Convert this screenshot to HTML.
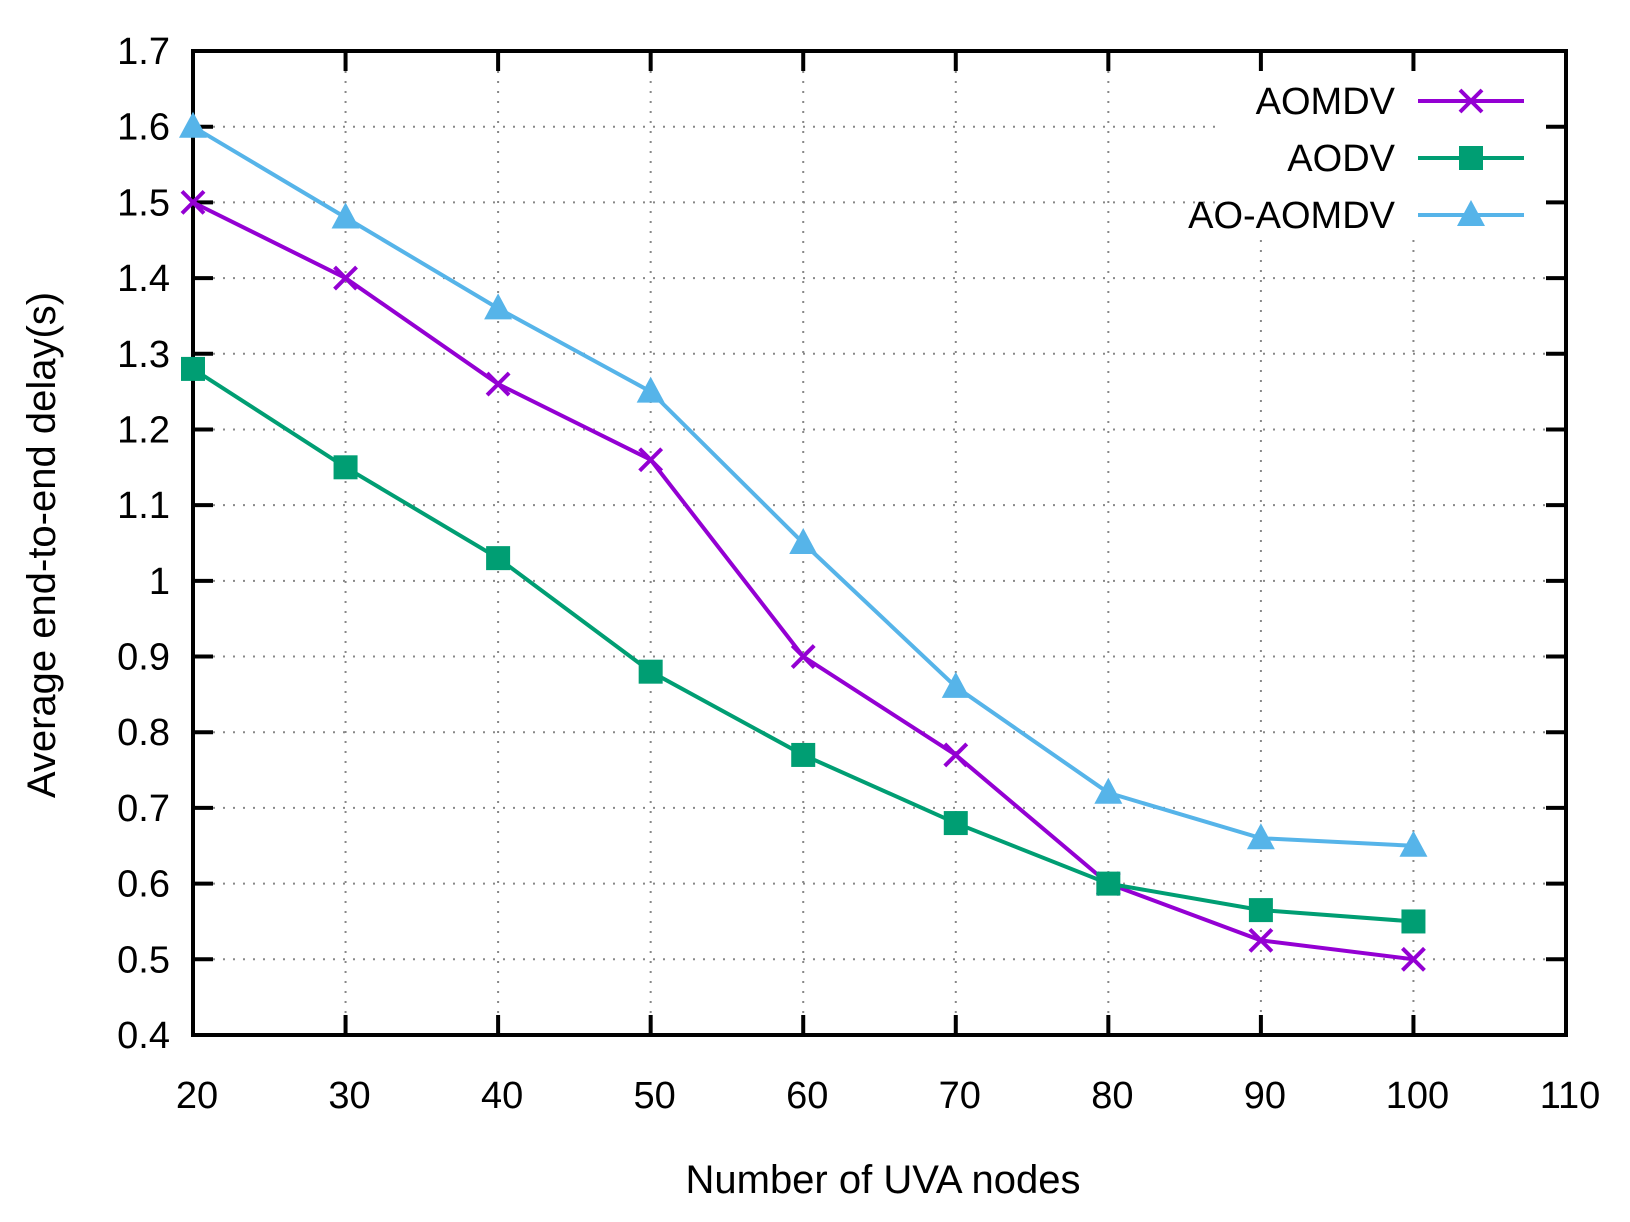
<!DOCTYPE html>
<html><head><meta charset="utf-8"><style>
html,body{margin:0;padding:0;background:#fff;}
svg{display:block;font-family:"Liberation Sans",sans-serif;}
</style></head><body>
<svg id="s" width="1630" height="1222" xmlns="http://www.w3.org/2000/svg"></svg>
<script>
const L=193,R=1566,T=51,B=1035;
const X=v=>L+(v-20)*(R-L)/90, Y=v=>B-(v-0.4)*(B-T)/1.3;
let h='';
for(let i=1;i<13;i++){const y=Y(0.4+i*0.1);const x2=(y<240)?1215:R;h+=`<line x1="${L}" y1="${y}" x2="${x2}" y2="${y}" stroke="#888" stroke-width="2" stroke-dasharray="2,8"/>`;}
for(let v=30;v<=100;v+=10){const x=X(v);const y1=(x>1200)?240:T;h+=`<line x1="${x}" y1="${y1}" x2="${x}" y2="${B}" stroke="#888" stroke-width="2" stroke-dasharray="2,8"/>`;}
for(let i=0;i<=13;i++){const y=Y(0.4+i*0.1);h+=`<line x1="${L}" y1="${y}" x2="${L+20}" y2="${y}" stroke="#000" stroke-width="4"/><line x1="${R}" y1="${y}" x2="${R-20}" y2="${y}" stroke="#000" stroke-width="4"/>`;
const lab=(Math.round((0.4+i*0.1)*10)/10).toString();h+=`<text x="170" y="${y+13}" font-size="38" text-anchor="end">${lab}</text>`;}
for(let v=20;v<=110;v+=10){const x=X(v);h+=`<line x1="${x}" y1="${B}" x2="${x}" y2="${B-20}" stroke="#000" stroke-width="4"/><line x1="${x}" y1="${T}" x2="${x}" y2="${T+20}" stroke="#000" stroke-width="4"/><text x="${x+4}" y="${1108}" font-size="38" text-anchor="middle">${v}</text>`;}
h+=`<rect x="${L}" y="${T}" width="${R-L}" height="${B-T}" fill="none" stroke="#000" stroke-width="4"/>`;
const xs=[20,30,40,50,60,70,80,90,100];
const S=[
 {n:'AOMDV',c:'#9400d3',d:[1.5,1.4,1.26,1.16,0.9,0.77,0.6,0.525,0.5],m:'x'},
 {n:'AODV',c:'#009e73',d:[1.28,1.15,1.03,0.88,0.77,0.68,0.6,0.565,0.55],m:'s'},
 {n:'AO-AOMDV',c:'#56b4e9',d:[1.6,1.48,1.36,1.25,1.05,0.86,0.72,0.66,0.65],m:'t'}];
function mk(m,x,y,c){if(m=='x')return `<path d="M${x-11} ${y-11}L${x+11} ${y+11}M${x-11} ${y+11}L${x+11} ${y-11}" stroke="${c}" stroke-width="4"/>`;
if(m=='s')return `<rect x="${x-12}" y="${y-12}" width="24" height="24" fill="${c}"/>`;
return `<path d="M${x} ${y-15}L${x+14} ${y+11}L${x-14} ${y+11}Z" fill="${c}"/>`;}
S.forEach((s,k)=>{h+=`<polyline fill="none" stroke="${s.c}" stroke-width="4" points="${xs.map((v,i)=>X(v)+','+Y(s.d[i])).join(' ')}"/>`;
 xs.forEach((v,i)=>h+=mk(s.m,X(v),Y(s.d[i]),s.c));
 const ly=101+k*57;h+=`<text x="1395" y="${ly+13}" font-size="38" text-anchor="end">${s.n}</text><line x1="1418" y1="${ly}" x2="1524" y2="${ly}" stroke="${s.c}" stroke-width="4"/>`+mk(s.m,1471,ly,s.c);});
h+=`<text x="883" y="1193" font-size="40" text-anchor="middle">Number of UVA nodes</text>`;
h+=`<text transform="translate(55,545) rotate(-90)" font-size="40" text-anchor="middle">Average end-to-end delay(s)</text>`;
document.getElementById('s').innerHTML=h;
</script>
</body></html>
